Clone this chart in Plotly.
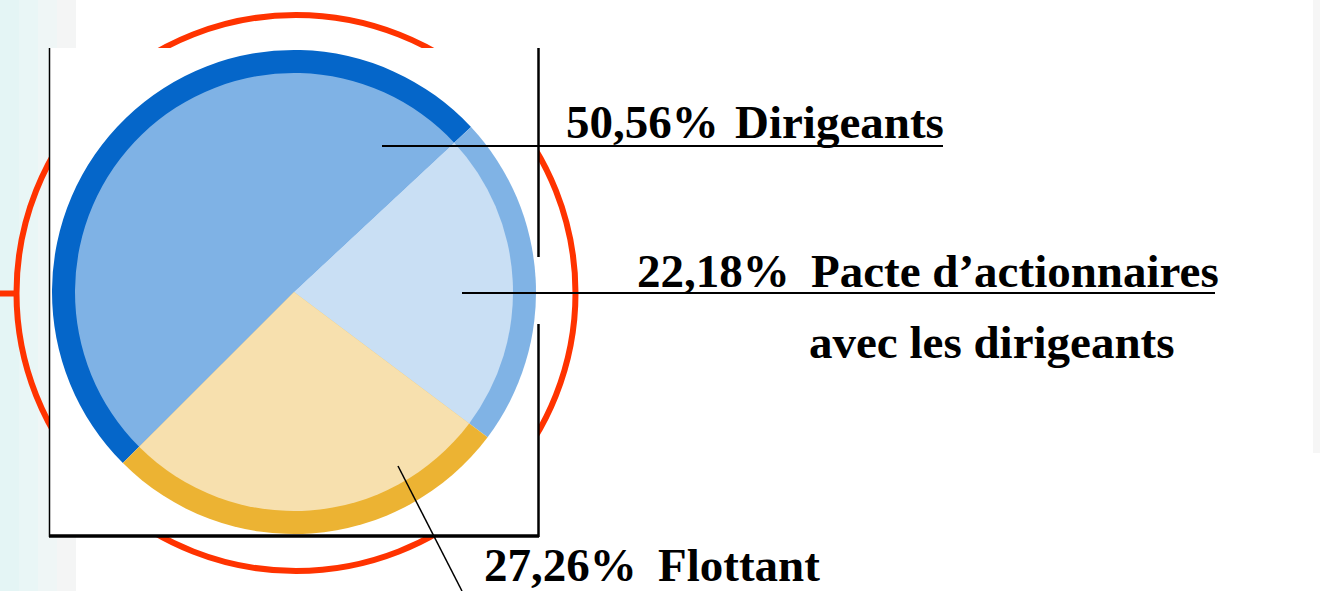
import plotly.graph_objects as go

W, H = 1320, 591

# ---- data ----
categories = ["Dirigeants", "Pacte d’actionnaires avec les dirigeants", "Flottant"]
shares = [50.56, 22.18, 27.26]
pct_labels = ["50,56%", "22,18%", "27,26%"]
label_lines = [["Dirigeants"], ["Pacte d’actionnaires", "avec les dirigeants"], ["Flottant"]]
fill_colors = ["#7fb2e5", "#c9dff4", "#f7e0ae"]
ring_colors = ["#0566c9", "#80b3e5", "#ecb333"]


def X(px):
    return px / W


def Y(py):
    return 1 - py / H


fig = go.Figure()

# pie: outer ring (darker) and inner fill (lighter)
cx, cy, r_out, r_in = 294, 292, 242, 219
for r, cols in ((r_out, ring_colors), (r_in, fill_colors)):
    fig.add_trace(go.Pie(
        labels=categories, values=shares, sort=False, direction="clockwise",
        rotation=225, textinfo="none", hoverinfo="label+percent",
        marker=dict(colors=cols, line=dict(width=0)),
        domain=dict(x=[X(cx - r), X(cx + r)], y=[Y(cy + r), Y(cy - r)]),
        showlegend=False,
    ))

shapes = []
# left light strip
strip_cols = ["#e4f5f5", "#e9f6f6", "#eff6f6", "#f4f5f5"]
for i, c in enumerate(strip_cols):
    shapes.append(dict(type="rect", xref="paper", yref="paper", layer="below",
                       x0=X(i * 19), x1=X((i + 1) * 19), y0=Y(591), y1=Y(0),
                       fillcolor=c, line=dict(width=0)))
# right light strip
shapes.append(dict(type="rect", xref="paper", yref="paper", layer="below",
                   x0=X(1313), x1=X(1320), y0=Y(453), y1=Y(0),
                   fillcolor="#f6f6f6", line=dict(width=0)))
# red circle
shapes.append(dict(type="circle", xref="paper", yref="paper", layer="below",
                   x0=X(16.5), x1=X(575.5), y0=Y(571), y1=Y(15),
                   line=dict(color="#ff3300", width=6)))
shapes.append(dict(type="line", xref="paper", yref="paper", layer="below",
                   x0=X(0), x1=X(18), y0=Y(293.5), y1=Y(293.5),
                   line=dict(color="#ff3300", width=6)))
# white box
shapes.append(dict(type="rect", xref="paper", yref="paper", layer="below",
                   x0=X(49), x1=X(538), y0=Y(536), y1=Y(48),
                   fillcolor="white", line=dict(width=0)))


def line(x0, y0, x1, y1, w, color="black"):
    shapes.append(dict(type="line", xref="paper", yref="paper", layer="above",
                       x0=X(x0), x1=X(x1), y0=Y(y0), y1=Y(y1),
                       line=dict(color=color, width=w)))


# box borders
line(49.5, 48, 49.5, 537, 1.5)
line(49, 536, 539, 536, 3.5)
line(538.5, 48, 538.5, 257, 2.5)
line(538.5, 324, 538.5, 537, 2.5)
# leader lines
line(382, 146, 943, 146, 2)
line(462, 293, 1215, 293, 2)
line(398, 466, 462, 591, 1.5)

fig.update_layout(shapes=shapes)

font = dict(family="Liberation Serif", size=47, color="black", weight="bold")
ann = []
pct_pos = [(565, 138), (636, 287), (483, 581)]
lab_pos = [[(734, 138)], [(810, 287), (808, 358)], [(657, 581)]]
for i in range(3):
    px, py = pct_pos[i]
    ann.append(dict(text=pct_labels[i], x=X(px), y=Y(py - 16), xref="paper", yref="paper",
                    xanchor="left", yanchor="middle", showarrow=False, font=font, borderpad=0))
    for t, (lx, ly) in zip(label_lines[i], lab_pos[i]):
        ann.append(dict(text=t, x=X(lx), y=Y(ly - 16), xref="paper", yref="paper",
                        xanchor="left", yanchor="middle", showarrow=False, font=font, borderpad=0))

fig.update_layout(
    annotations=ann,
    width=W, height=H,
    margin=dict(l=0, r=0, t=0, b=0),
    paper_bgcolor="white", plot_bgcolor="white",
    xaxis=dict(visible=False), yaxis=dict(visible=False),
)

fig.write_html("out.html", config={"displayModeBar": False},
               post_script="document.body.style.margin='0';document.body.style.overflow='hidden';")
